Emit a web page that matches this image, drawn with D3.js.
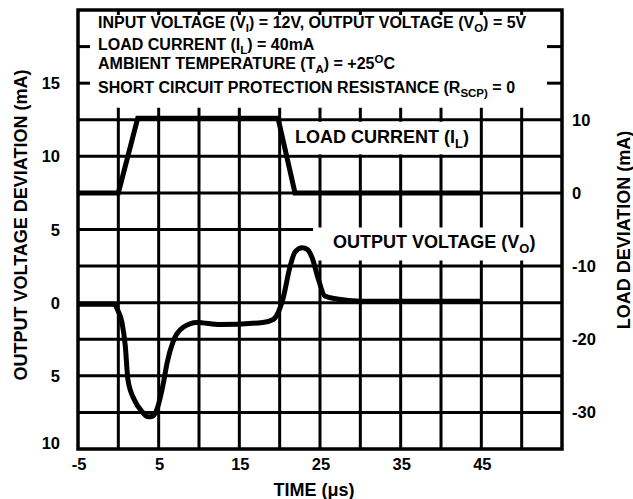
<!DOCTYPE html>
<html>
<head>
<meta charset="utf-8">
<script src="https://cdn.jsdelivr.net/npm/d3@7"></script>
<style>
  body { margin: 0; background: #fff; }
  text { font-family: "Liberation Sans", Arial, Helvetica, sans-serif; font-weight: bold; fill: #000; }
</style>
</head>
<body>
<div id="chart"></div>
<script>
// Time axis (us)
const timeTicks = [-5, 5, 15, 25, 35, 45];
const timeGrid = [0, 5, 10, 15, 20, 25, 30, 35, 40, 45, 50];

// Left axis: output voltage deviation (mA), printed without the minus sign
const voltTicks = [-10, -5, 0, 5, 10, 15];
const voltTickLabels = ["10", "5", "0", "5", "10", "15"];
const voltGrid = [12.5, 10, 7.5, 5, 2.5, 0, -2.5, -5, -7.5];
const voltHeaderTicks = [17.5, 15];

// Right axis: load deviation (mA)
const loadTicks = [-30, -20, -10, 0, 10];

// Load current step (right axis)
const loadTime  = [-5, 0, 2.4, 19.8, 21.9, 45];
const loadValue = [0, 0, 10.2, 10.2, 0, 0];

// Output voltage response (left axis)
const voutTime  = [-5, -0.6, 0.0, 0.45, 0.85, 1.2, 1.95, 2.95, 3.7, 4.3, 4.9, 5.55, 6.05, 6.8, 8.0,
                   9.75, 12.6, 17.9, 19.2, 20.4, 21.3, 21.9, 22.8, 23.4, 24.0, 24.8, 25.6, 27.1, 30.0, 45];
const voutValue = [-0.1, -0.1, -0.6, -1.35, -2.9, -5.3, -6.6, -7.45, -7.8, -7.75, -7.1, -5.6, -4.1, -2.65, -1.7,
                   -1.35, -1.5, -1.35, -1.15, 0.25, 2.5, 3.45, 3.75, 3.65, 3.1, 1.6, 0.45, 0.25, 0.1, 0.1];

// Condition text, segments: [text, "" | "sub" | "sup"]
const headerLines = [
  [["INPUT VOLTAGE (V", ""], ["I", "sub"], [") = 12V, OUTPUT VOLTAGE (V", ""], ["O", "sub"], [") = 5V", ""]],
  [["LOAD CURRENT (I", ""], ["L", "sub"], [") = 40mA", ""]],
  [["AMBIENT TEMPERATURE (T", ""], ["A", "sub"], [") = +25", ""], ["O", "sup"], ["C", ""]],
  [["SHORT CIRCUIT PROTECTION RESISTANCE (R", ""], ["SCP)", "sub"], [" = 0", ""]]
];
const headerBaselines = [28, 50, 69, 93];
const loadLabel = [["LOAD CURRENT (I", ""], ["L", "sub"], [")", ""]];
const voutLabel = [["OUTPUT VOLTAGE (V", ""], ["O", "sub"], [")", ""]];

const width = 633, height = 499;
const margin = { top: 10, right: 71, bottom: 50, left: 78 };

const svg = d3.select("#chart").append("svg")
  .attr("width", width)
  .attr("height", height);

svg.append("rect").attr("width", width).attr("height", height).attr("fill", "#fff");

const x = d3.scaleLinear().domain([-5, 55]).range([margin.left, width - margin.right]);
const yL = d3.scaleLinear().domain([-10, 20]).range([height - margin.bottom, margin.top]);
const yR = d3.scaleLinear().domain([-35, 25]).range([height - margin.bottom, margin.top]);

const x0 = x.range()[0], x1 = x.range()[1];
const yTop = yL.range()[1], yBot = yL.range()[0];
const gridTop = yL(12.5) - 12;

// Grid
const grid = svg.append("g").attr("stroke", "#000").attr("stroke-width", 3);
grid.selectAll(".v").data(timeGrid).enter().append("line")
  .attr("x1", d => x(d)).attr("x2", d => x(d))
  .attr("y1", gridTop).attr("y2", yBot);
grid.selectAll(".h").data(voltGrid).enter().append("line")
  .attr("x1", x0).attr("x2", x1)
  .attr("y1", d => yL(d)).attr("y2", d => yL(d));

// Small ticks along the top edge and in the header band
grid.selectAll(".tt").data(timeGrid).enter().append("line")
  .attr("x1", d => x(d)).attr("x2", d => x(d))
  .attr("y1", yTop).attr("y2", yTop + 5);
grid.selectAll(".lt").data(voltHeaderTicks).enter().append("line")
  .attr("x1", x0).attr("x2", x0 + 12)
  .attr("y1", d => yL(d)).attr("y2", d => yL(d));
grid.selectAll(".rt").data(voltHeaderTicks).enter().append("line")
  .attr("x1", x1 - 15).attr("x2", x1)
  .attr("y1", d => yL(d)).attr("y2", d => yL(d));

// Label boxes that blank out the grid
svg.append("rect")
  .attr("x", 286).attr("y", yL(12.5) + 2)
  .attr("width", 192).attr("height", yL(10) - yL(12.5) - 4)
  .attr("fill", "#fff");
svg.append("rect")
  .attr("x", 313).attr("y", yL(5) - 2)
  .attr("width", x1 - 313).attr("height", 33)
  .attr("fill", "#fff");

// Frame
svg.append("rect")
  .attr("x", x0).attr("y", yTop)
  .attr("width", x1 - x0).attr("height", yBot - yTop)
  .attr("fill", "none").attr("stroke", "#000").attr("stroke-width", 3.5);

// Traces
const loadLine = d3.line()
  .x((d, i) => x(loadTime[i]))
  .y(d => yR(d));
svg.append("path")
  .attr("d", loadLine(loadValue))
  .attr("fill", "none").attr("stroke", "#000").attr("stroke-width", 5)
  .attr("stroke-linejoin", "miter");

const voutLine = d3.line()
  .x((d, i) => x(voutTime[i]))
  .y(d => yL(d))
  .curve(d3.curveMonotoneX);
svg.append("path")
  .attr("d", voutLine(voutValue))
  .attr("fill", "none").attr("stroke", "#000").attr("stroke-width", 5)
  .attr("stroke-linejoin", "round");

// Rich text helper: shifts sub/superscripts and restores the baseline on the next piece
function richText(sel, parts, size) {
  let back = 0;
  parts.forEach(p => {
    const t = sel.append("tspan").text(p[0]);
    let dy = back;
    back = 0;
    if (p[1] === "sub") {
      t.attr("font-size", size * 0.72);
      dy += size * 0.28;
      back = -size * 0.28;
    } else if (p[1] === "sup") {
      t.attr("font-size", size * 0.72);
      dy -= size * 0.38;
      back = size * 0.38;
    }
    if (dy) t.attr("dy", dy);
  });
}

headerLines.forEach((line, i) => {
  const t = svg.append("text")
    .attr("x", 98).attr("y", headerBaselines[i])
    .attr("font-size", 16);
  richText(t, line, 16);
});

const lt = svg.append("text").attr("x", 295).attr("y", yL(10) - 13).attr("font-size", 18);
richText(lt, loadLabel, 18);
const vt = svg.append("text").attr("x", 333).attr("y", yL(5) + 18).attr("font-size", 18);
richText(vt, voutLabel, 18);

// Tick labels
svg.selectAll(".xl").data(timeTicks).enter().append("text")
  .attr("x", d => x(d) + 1).attr("y", yBot + 21)
  .attr("text-anchor", "middle").attr("font-size", 16.5)
  .text(d => d);

svg.selectAll(".yl").data(voltTicks).enter().append("text")
  .attr("x", 60)
  .attr("y", d => Math.min(yL(d), yBot - 6) + 6)
  .attr("text-anchor", "end").attr("font-size", 16.5)
  .text((d, i) => voltTickLabels[i]);

svg.selectAll(".yr").data(loadTicks).enter().append("text")
  .attr("x", 572)
  .attr("y", d => yR(d) + 6)
  .attr("text-anchor", "start").attr("font-size", 16.5)
  .text(d => d);

// Axis titles
svg.append("text")
  .attr("transform", "translate(27,225) rotate(-90)")
  .attr("text-anchor", "middle").attr("font-size", 18)
  .text("OUTPUT VOLTAGE DEVIATION (mA)");
svg.append("text")
  .attr("transform", "translate(630,230) rotate(-90)")
  .attr("text-anchor", "middle").attr("font-size", 18)
  .text("LOAD DEVIATION (mA)");
svg.append("text")
  .attr("x", 314).attr("y", 496)
  .attr("text-anchor", "middle").attr("font-size", 18)
  .text("TIME (\u03bcs)");
</script>
</body>
</html>
